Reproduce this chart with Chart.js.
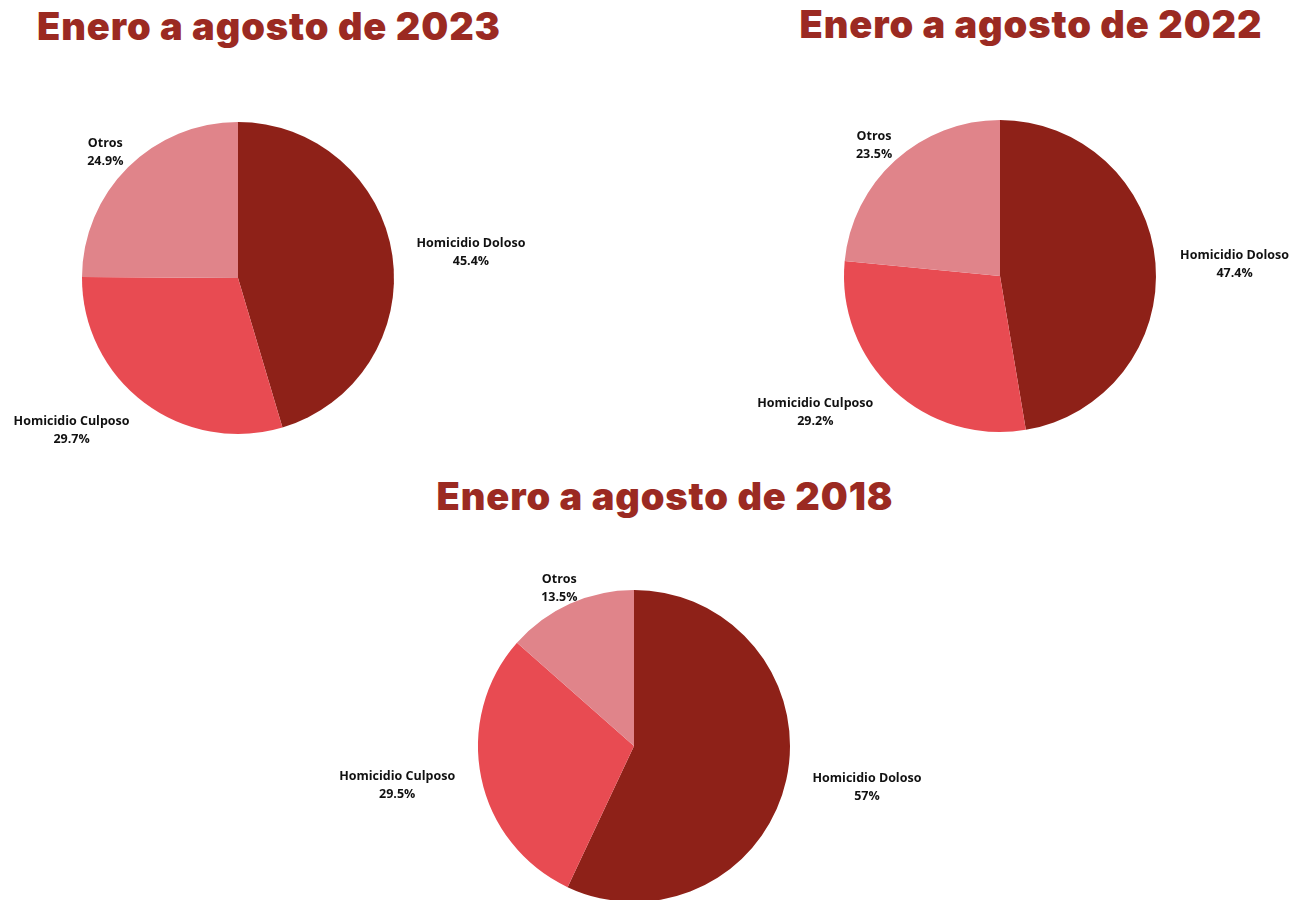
<!DOCTYPE html>
<html>
<head>
<meta charset="utf-8">
<script src="https://cdn.jsdelivr.net/npm/chart.js@4"></script>
<style>
  html, body { margin: 0; padding: 0; background: #fff; overflow: hidden; }
  body { width: 1302px; height: 900px; position: relative; }
  .titulo {
    position: absolute; margin: 0; white-space: nowrap;
    font-family: Inter, "Open Sans", sans-serif; font-weight: 900;
    font-size: 38px; color: #9B2A22; transform: translateX(-50%);
    letter-spacing: 0.9px;
  }
  .box { position: absolute; width: 600px; height: 400px; }
</style>
</head>
<body>
<div class="titulo" style="left:269px; top:3px;">Enero a agosto de 2023</div>
<div class="titulo" style="left:1031px; top:1px;">Enero a agosto de 2022</div>
<div class="titulo" style="left:665px; top:473px;">Enero a agosto de 2018</div>

<div class="box" style="left:-62px; top:78px;"><canvas id="pie-2023" width="600" height="400"></canvas></div>
<div class="box" style="left:700px; top:76px;"><canvas id="pie-2022" width="600" height="400"></canvas></div>
<div class="box" style="left:334px; top:546px;"><canvas id="pie-2018" width="600" height="400"></canvas></div>

<script>
// datos
const categorias = ['Homicidio Doloso', 'Homicidio Culposo', 'Otros'];
const valores2023 = [45.4, 29.7, 24.9];
const valores2022 = [47.4, 29.2, 23.5];
const valores2018 = [57, 29.5, 13.5];
const colores = ['#8E2118', '#E84B52', '#E0848A'];

// etiquetas fuera del pastel
const etiquetasFuera = {
  id: 'etiquetasFuera',
  afterDatasetsDraw(chart) {
    const ctx = chart.ctx;
    const meta = chart.getDatasetMeta(0);
    const datos = chart.data.datasets[0].data;
    ctx.save();
    ctx.font = 'bold 12.5px "Open Sans", sans-serif';
    ctx.fillStyle = '#111';
    ctx.textAlign = 'center';
    ctx.textBaseline = 'middle';
    meta.data.forEach(function(arc, i) {
      const p = arc.getProps(['x', 'y', 'startAngle', 'endAngle', 'outerRadius'], true);
      const mid = (p.startAngle + p.endAngle) / 2;
      let dx = Math.cos(mid), dy = Math.sin(mid);
      // las etiquetas de abajo se abren hacia los lados
      if (dy > 0) {
        dy = dy * 0.65;
        const n = Math.hypot(dx, dy);
        dx /= n; dy /= n;
      }
      const linea1 = chart.data.labels[i];
      const linea2 = datos[i] + '%';
      const w = Math.max(ctx.measureText(linea1).width, ctx.measureText(linea2).width);
      const halfW = w / 2, halfH = 17;
      const gap = 2 + 22 * Math.pow(dx, 4);
      const dist = p.outerRadius + gap + halfW * Math.abs(dx) + halfH * Math.abs(dy);
      const cx = p.x + dx * dist;
      const cy = p.y + dy * dist + 8;
      ctx.fillText(linea1, cx, cy - 9);
      ctx.fillText(linea2, cx, cy + 9);
    });
    ctx.restore();
  }
};

function pastel(id, valores) {
  new Chart(document.getElementById(id), {
    type: 'pie',
    data: {
      labels: categorias,
      datasets: [{
        data: valores,
        backgroundColor: colores,
        borderWidth: 0
      }]
    },
    options: {
      responsive: false,
      animation: false,
      radius: 156,
      layout: { padding: 0 },
      plugins: {
        legend: { display: false },
        tooltip: { enabled: false }
      }
    },
    plugins: [etiquetasFuera]
  });
}

pastel('pie-2023', valores2023);
pastel('pie-2022', valores2022);
pastel('pie-2018', valores2018);
</script>
</body>
</html>
